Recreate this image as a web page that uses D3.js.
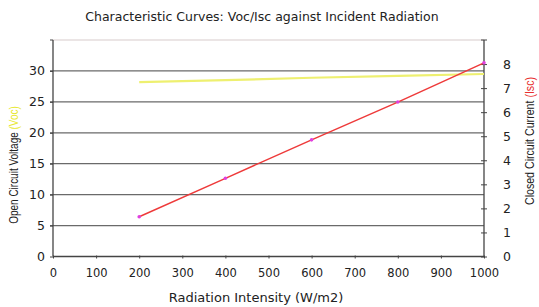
<!DOCTYPE html>
<html>
<head>
<meta charset="utf-8">
<script src="https://cdn.jsdelivr.net/npm/d3@7"></script>
<style>
  body { margin: 0; background: #fff; }
  svg { display: block; }
</style>
</head>
<body>
<svg id="chart" width="539" height="307"></svg>
<script>
// Data
const radiation = [200, 400, 600, 800, 1000];
const voc = [28.2, 28.5, 28.9, 29.2, 29.5];
const isc = [1.65, 3.25, 4.85, 6.42, 8.05];
const xTicks = [0, 100, 200, 300, 400, 500, 600, 700, 800, 900, 1000];
const leftTicks = [0, 5, 10, 15, 20, 25, 30];
const rightTicks = [0, 1, 2, 3, 4, 5, 6, 7, 8];

const svg = d3.select('#chart');
const plotLeft = 53, plotRight = 484, plotTop = 40, plotBottom = 256.5;
const tickFont = 'DejaVu Sans, Verdana, sans-serif';
const narrowFont = '"Liberation Sans", Arial, sans-serif';

const x = d3.scaleLinear().domain([0, 1000]).range([plotLeft, plotRight]);
const yL = d3.scaleLinear().domain([0, 35]).range([plotBottom, plotTop]);
const yR = d3.scaleLinear().domain([0, 9]).range([plotBottom, plotTop]);

// Title
svg.append('text')
  .attr('x', 262).attr('y', 21)
  .attr('text-anchor', 'middle')
  .attr('font-family', tickFont)
  .attr('font-size', 12.5)
  .attr('fill', '#222')
  .text('Characteristic Curves: Voc/Isc against Incident Radiation');

// Top border of the plot
svg.append('line')
  .attr('x1', plotLeft).attr('x2', plotRight)
  .attr('y1', plotTop).attr('y2', plotTop)
  .attr('stroke', '#d8cccc').attr('stroke-width', 1.2);

// Gridlines
svg.append('g').selectAll('line')
  .data(leftTicks.filter(d => d > 0))
  .join('line')
  .attr('x1', plotLeft - 3).attr('x2', plotRight)
  .attr('y1', d => yL(d)).attr('y2', d => yL(d))
  .attr('stroke', '#6a6a6a').attr('stroke-width', 1.3);

// Left axis
const axL = svg.append('g')
  .attr('transform', `translate(${plotLeft},0)`)
  .call(d3.axisLeft(yL).tickValues(leftTicks).tickSize(3).tickPadding(5));
axL.select('.domain').remove();
axL.append('line')
  .attr('x1', 0).attr('x2', 0).attr('y1', plotTop).attr('y2', plotBottom)
  .attr('stroke', '#444').attr('stroke-width', 1.3);
axL.append('line')
  .attr('x1', -3).attr('x2', 0).attr('y1', plotTop).attr('y2', plotTop)
  .attr('stroke', '#444');
axL.selectAll('.tick line').attr('stroke', '#444');
axL.selectAll('text').attr('font-family', tickFont).attr('font-size', 12.5).attr('fill', '#222');

// Right axis
const axR = svg.append('g')
  .attr('transform', `translate(${plotRight},0)`)
  .call(d3.axisRight(yR).tickValues(rightTicks).tickSize(3).tickPadding(16));
axR.select('.domain').remove();
axR.append('line')
  .attr('x1', 0).attr('x2', 0).attr('y1', plotTop).attr('y2', plotBottom)
  .attr('stroke', '#444').attr('stroke-width', 1.3);
axR.selectAll('.tick line').attr('x1', -3).attr('stroke', '#444');
axR.append('line')
  .attr('x1', -3).attr('x2', 3).attr('y1', yR(9)).attr('y2', yR(9))
  .attr('stroke', '#444');
axR.selectAll('text').attr('font-family', tickFont).attr('font-size', 12.5).attr('fill', '#222');

// Bottom axis
const axB = svg.append('g')
  .attr('transform', `translate(0,${plotBottom})`)
  .call(d3.axisBottom(x).tickValues(xTicks).tickFormat(d3.format('d')).tickSize(2).tickPadding(10));
axB.select('.domain').remove();
axB.append('line')
  .attr('x1', plotLeft).attr('x2', plotRight).attr('y1', 0).attr('y2', 0)
  .attr('stroke', '#444').attr('stroke-width', 1.5);
axB.selectAll('.tick line').attr('y1', -1).attr('stroke', '#444');
axB.selectAll('text').attr('font-family', tickFont).attr('font-size', 11.5).attr('fill', '#222');

// Axis titles
svg.append('text')
  .attr('x', 256).attr('y', 302)
  .attr('text-anchor', 'middle')
  .attr('font-family', tickFont)
  .attr('font-size', 13)
  .attr('fill', '#222')
  .text('Radiation Intensity (W/m2)');

const tl = svg.append('text')
  .attr('transform', 'translate(18,165) rotate(-90) scale(0.8,1)')
  .attr('text-anchor', 'middle')
  .attr('font-family', narrowFont)
  .attr('font-size', 12.5)
  .attr('fill', '#222');
tl.append('tspan').text('Open Circuit Voltage ');
tl.append('tspan').attr('fill', '#e8e830').text('(Voc)');

const tr = svg.append('text')
  .attr('transform', 'translate(534,141) rotate(-90) scale(0.85,1)')
  .attr('text-anchor', 'middle')
  .attr('font-family', narrowFont)
  .attr('font-size', 12.5)
  .attr('fill', '#222');
tr.append('tspan').text('Closed Circuit Current ');
tr.append('tspan').attr('fill', '#e83030').text('(Isc)');

// Series
const vocLine = d3.line().x((d, i) => x(radiation[i])).y(d => yL(d));
svg.append('path')
  .datum(voc)
  .attr('d', vocLine)
  .attr('fill', 'none')
  .attr('stroke', '#eef070')
  .attr('stroke-width', 2.2);

const iscLine = d3.line().x((d, i) => x(radiation[i])).y(d => yR(d));
svg.append('path')
  .datum(isc)
  .attr('d', iscLine)
  .attr('fill', 'none')
  .attr('stroke', '#ee3a3a')
  .attr('stroke-width', 1.5);

svg.append('g').selectAll('circle')
  .data(isc)
  .join('circle')
  .attr('cx', (d, i) => x(radiation[i]))
  .attr('cy', d => yR(d))
  .attr('r', 1.8)
  .attr('fill', '#e040e0');
</script>
</body>
</html>
